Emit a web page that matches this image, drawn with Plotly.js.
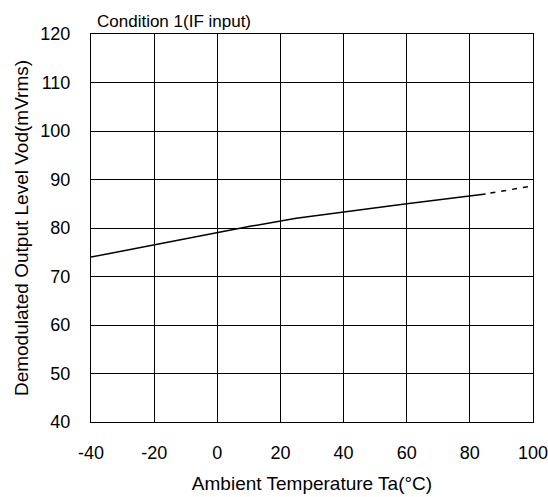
<!DOCTYPE html>
<html>
<head>
<meta charset="utf-8">
<script src="https://cdn.plot.ly/plotly-3.0.1.min.js"></script>
<style>html,body{margin:0;padding:0;background:#fff;}#chart{width:548px;height:497px;}</style>
</head>
<body>
<div id="chart"></div>
<script>
const tempSolid = [-40, -20, 0, 10, 25, 40, 60, 85];
const vodSolid = [74, 76.5, 79, 80.3, 82, 83.3, 85, 87];
const tempDashed = [86.5, 100];
const vodDashed = [87.2, 88.7];
const xTicks = [-40, -20, 0, 20, 40, 60, 80, 100];
const yTicks = [40, 50, 60, 70, 80, 90, 100, 110, 120];

const font = "Liberation Sans, Arial, sans-serif";
const traces = [
  {x: tempSolid, y: vodSolid, mode: 'lines', line: {color: '#000', width: 1.5}, showlegend: false, hoverinfo: 'skip'},
  {x: tempDashed, y: vodDashed, mode: 'lines', line: {color: '#000', width: 1.5, dash: '5px,6px'}, showlegend: false, hoverinfo: 'skip'}
];
const layout = {
  width: 548, height: 497,
  margin: {l: 91, r: 15, t: 34, b: 75},
  paper_bgcolor: '#fff', plot_bgcolor: '#fff',
  font: {family: font, color: '#000', size: 18},
  annotations: [{text: 'Condition 1(IF input)', xref: 'paper', yref: 'paper', x: 0.01, y: 1, xanchor: 'left', yanchor: 'bottom', yshift: 1, showarrow: false, font: {family: font, size: 17, color: '#000'}}],
  xaxis: {
    range: [-40, 100], tickvals: xTicks, ticktext: xTicks.map(String),
    showgrid: true, gridcolor: '#000', gridwidth: 1,
    showline: true, linecolor: '#000', linewidth: 1, mirror: true,
    zeroline: false, ticks: '', ticklabelstandoff: 14, ticklabeloverflow: 'allow',
    tickfont: {family: font, size: 18, color: '#000'},
    title: {text: 'Ambient Temperature Ta(°C)', font: {family: font, size: 19, color: '#000'}, standoff: 15}
  },
  yaxis: {
    range: [40, 120], tickvals: yTicks, ticktext: yTicks.map(String),
    showgrid: true, gridcolor: '#000', gridwidth: 1,
    showline: true, linecolor: '#000', linewidth: 1, mirror: true,
    zeroline: false, ticks: '', ticklabelstandoff: 16,
    tickfont: {family: font, size: 18, color: '#000'},
    title: {text: 'Demodulated Output Level Vod(mVrms)', font: {family: font, size: 19, color: '#000'}, standoff: 6}
  }
};
Plotly.newPlot('chart', traces, layout, {displayModeBar: false, staticPlot: true});
</script>
</body>
</html>
